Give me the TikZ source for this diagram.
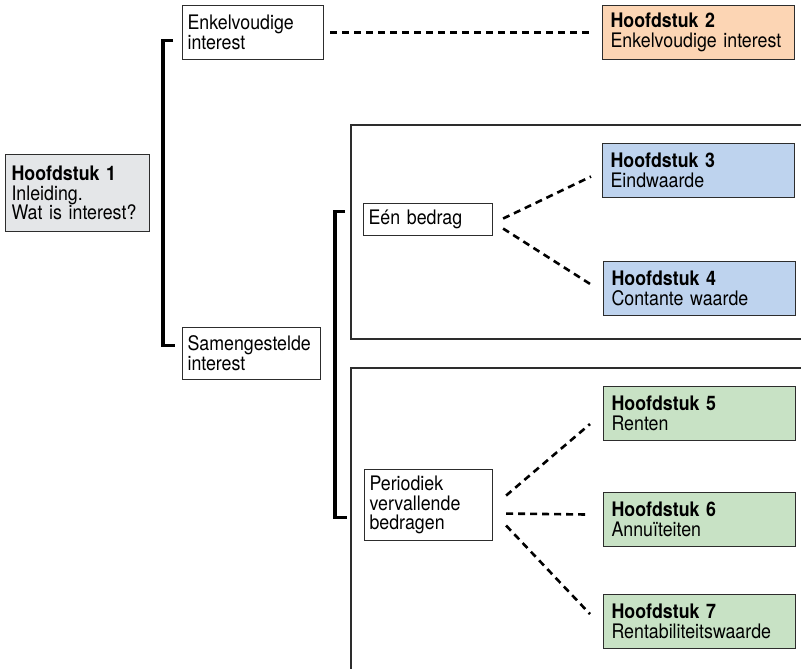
\documentclass[tikz,border=0pt]{standalone}
\usepackage{fontspec}
\setmainfont[FakeStretch=0.89]{TeX Gyre Heros}
\definecolor{boxgray}{RGB}{228,230,232}
\definecolor{peach}{RGB}{252,213,180}
\definecolor{lblue}{RGB}{190,211,238}
\definecolor{lgreen}{RGB}{200,226,197}
\definecolor{boxline}{RGB}{45,45,45}
\begin{document}
\begin{tikzpicture}[x=1pt,y=-1pt,
  box/.style={draw=boxline, line width=1.1pt, anchor=north west, align=left,
    inner xsep=5pt, inner ysep=0pt, font=\fontsize{20}{19.8}\selectfont},
  chap/.style={box, inner xsep=8pt, text width=176pt, minimum width=192pt, minimum height=54pt},
  bracket/.style={line width=3.2pt, black},
  dashline/.style={line width=2.6pt, black, dash pattern=on 7pt off 5pt},
  frame/.style={line width=1.3pt, boxline}
]
\useasboundingbox (0,0) rectangle (801,669);
\fill[white] (0,0) rectangle (801,669);

% frames
\draw[frame] (801,125) -- (351,125) -- (351,339) -- (801,339);
\draw[frame] (801,368) -- (351,368) -- (351,669);

% nodes
\node[box, fill=boxgray, inner xsep=6pt, text width=132pt, minimum width=144pt, minimum height=77pt] (h1) at (5,154) {\textbf{Hoofdstuk 1}\\Inleiding.\\Wat is interest?};
\node[box, text width=131pt, minimum width=141pt, minimum height=54pt] (enk) at (182,5) {Enkelvoudige\\interest};
\node[box, text width=128pt, minimum width=138pt, minimum height=52pt] (sam) at (182,327) {Samengestelde\\interest};
\node[box, text width=119pt, minimum width=129pt, minimum height=32pt] (een) at (363,203) {Eén bedrag};
\node[box, text width=118pt, minimum width=128pt, minimum height=71pt] (per) at (364,469) {Periodiek\\vervallende\\bedragen};

\node[chap, fill=peach] (h2) at (602,5) {\textbf{Hoofdstuk 2}\\Enkelvoudige interest};
\node[chap, fill=lblue] (h3) at (602,143) {\textbf{Hoofdstuk 3}\\Eindwaarde};
\node[chap, fill=lblue] (h4) at (603,261) {\textbf{Hoofdstuk 4}\\Contante waarde};
\node[chap, fill=lgreen] (h5) at (603,386) {\textbf{Hoofdstuk 5}\\Renten};
\node[chap, fill=lgreen] (h6) at (603,492) {\textbf{Hoofdstuk 6}\\Annuïteiten};
\node[chap, fill=lgreen] (h7) at (603,594) {\textbf{Hoofdstuk 7}\\Rentabiliteitswaarde};

% brackets
\draw[bracket] ([xshift=-9pt,yshift=-8pt]enk.west) -- ++(-10,0) |- ([xshift=-7pt,yshift=8pt]sam.west);
\draw[bracket] ([xshift=-18pt,yshift=8pt]een.west) -- ++(-10,0) |- ([xshift=-17pt,yshift=-12.5pt]per.west);

% dashed connectors
\draw[dashline] ([xshift=6pt]enk.east) -- ([xshift=-9pt]h2.west);
\draw[dashline] ([xshift=10pt,yshift=1pt]een.east) -- ([xshift=-11pt,yshift=-6pt]h3.west);
\draw[dashline] ([xshift=10pt,yshift=-9pt]een.east) -- ([xshift=-12pt,yshift=4pt]h4.west);
\draw[dashline] ([xshift=13pt,yshift=9.5pt]per.east) -- ([xshift=-13pt,yshift=-10.5pt]h5.west);
\draw[dashline] ([xshift=13pt,yshift=-8.5pt]per.east) -- ([xshift=-13pt,yshift=5pt]h6.west);
\draw[dashline] ([xshift=13pt,yshift=-20.5pt]per.east) -- ([xshift=-13pt,yshift=7.5pt]h7.west);
\end{tikzpicture}
\end{document}
